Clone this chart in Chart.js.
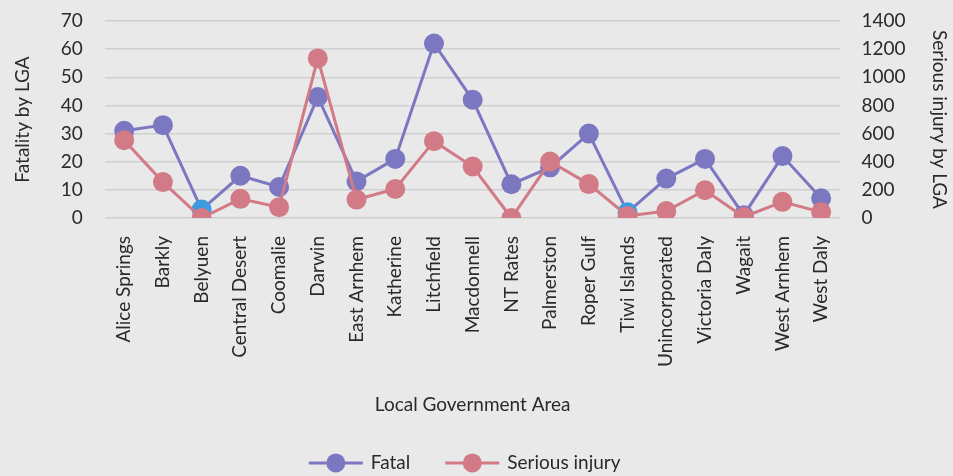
<!DOCTYPE html>
<html>
<head>
<meta charset="utf-8">
<script src="https://cdn.jsdelivr.net/npm/chart.js@4.4.1/dist/chart.umd.min.js"></script>
<style>
  html, body { margin: 0; padding: 0; background: #e9e9e9; }
  #wrap { width: 953px; height: 476px; }
</style>
</head>
<body>
<div id="wrap"><canvas id="chart" width="953" height="476"></canvas></div>
<script>
// Road crash casualties by Local Government Area (NT)
const categories = [
  'Alice Springs', 'Barkly', 'Belyuen', 'Central Desert', 'Coomalie', 'Darwin',
  'East Arnhem', 'Katherine', 'Litchfield', 'Macdonnell', 'NT Rates', 'Palmerston',
  'Roper Gulf', 'Tiwi Islands', 'Unincorporated', 'Victoria Daly', 'Wagait',
  'West Arnhem', 'West Daly'
];
// Fatalities (left axis)
const fatal = [31, 33, 3, 15, 11, 43, 13, 21, 62, 42, 12, 18, 30, 2, 14, 21, 1, 22, 7];
// Serious injuries (right axis)
const seriousInjury = [553, 255, 0, 136, 77, 1134, 131, 206, 546, 366, 0, 401, 241, 14, 49, 197, 7, 115, 42];

const fatalTicks = [0, 10, 20, 30, 40, 50, 60, 70];
const injuryTicks = [0, 200, 400, 600, 800, 1000, 1200, 1400];
// Areas whose fatal marker is shown in the accent colour
const accentAreas = ['Belyuen', 'Tiwi Islands'];

const FATAL_COLOR = '#7b77c1';
const INJURY_COLOR = '#d27a86';
const ACCENT_COLOR = '#3d9ce0';
const TEXT_COLOR = '#2a2a2a';
const FONT = 'Lato, "Open Sans", sans-serif';
const FONT_SIZE = 19;

// Legend drawn as line-and-dot swatches under the axis title
const lineLegend = {
  id: 'lineLegend',
  afterDraw(chart) {
    const ctx = chart.ctx;
    const swatchW = 54, dotR = 9.5, textGap = 8, itemGap = 35;
    ctx.save();
    ctx.font = FONT_SIZE + 'px ' + FONT;
    const items = chart.data.datasets.map(ds => ({
      text: ds.label, color: ds.borderColor, w: ctx.measureText(ds.label).width
    }));
    const total = items.reduce((s, it) => s + swatchW + textGap + it.w, 0) + itemGap * (items.length - 1);
    const cx = (chart.chartArea.left + chart.chartArea.right) / 2 - 8;
    const y = chart.height - 13;
    let x = cx - total / 2;
    items.forEach(it => {
      ctx.strokeStyle = it.color;
      ctx.lineWidth = 3;
      ctx.beginPath(); ctx.moveTo(x, y); ctx.lineTo(x + swatchW, y); ctx.stroke();
      ctx.fillStyle = it.color;
      ctx.beginPath(); ctx.arc(x + swatchW / 2, y, dotR, 0, Math.PI * 2); ctx.fill();
      ctx.fillStyle = TEXT_COLOR;
      ctx.textBaseline = 'middle';
      ctx.textAlign = 'left';
      ctx.fillText(it.text, x + swatchW + textGap, y);
      x += swatchW + textGap + it.w + itemGap;
    });
    ctx.restore();
  }
};

new Chart(document.getElementById('chart'), {
  type: 'line',
  data: {
    labels: categories,
    datasets: [
      {
        label: 'Fatal',
        data: fatal,
        yAxisID: 'yFatal',
        order: 1,
        borderColor: FATAL_COLOR,
        borderWidth: 3,
        pointRadius: 10,
        pointHoverRadius: 10,
        pointBorderWidth: 0,
        pointBackgroundColor: ctx => accentAreas.includes(categories[ctx.dataIndex]) ? ACCENT_COLOR : FATAL_COLOR,
        tension: 0
      },
      {
        label: 'Serious injury',
        data: seriousInjury,
        yAxisID: 'yInjury',
        order: 0,
        borderColor: INJURY_COLOR,
        borderWidth: 3,
        pointRadius: 10,
        pointHoverRadius: 10,
        pointBorderWidth: 0,
        pointBackgroundColor: INJURY_COLOR,
        tension: 0
      }
    ]
  },
  plugins: [lineLegend],
  options: {
    responsive: false,
    animation: false,
    layout: { padding: { left: 2, right: 0, top: 0, bottom: 40 } },
    plugins: {
      tooltip: { enabled: false },
      legend: { display: false }
    },
    scales: {
      x: {
        offset: true,
        grid: { display: false, drawTicks: false },
        border: { display: false },
        ticks: {
          color: TEXT_COLOR,
          font: { family: FONT, size: FONT_SIZE },
          minRotation: 90,
          maxRotation: 90,
          autoSkip: false,
          padding: 18
        },
        title: {
          display: true,
          text: 'Local Government Area',
          color: TEXT_COLOR,
          font: { family: FONT, size: FONT_SIZE },
          padding: { top: 22, bottom: 20 }
        }
      },
      yFatal: {
        position: 'left',
        min: 0,
        max: 70,
        afterBuildTicks: axis => { axis.ticks = fatalTicks.map(v => ({ value: v })); },
        // invisible tick marks keep the labels clear of the plot
        grid: { color: '#cfcfcf', lineWidth: 1.5, drawTicks: true, tickLength: 12.4, tickColor: 'rgba(0,0,0,0)' },
        border: { display: false },
        ticks: { color: TEXT_COLOR, font: { family: FONT, size: FONT_SIZE }, padding: 9.6 },
        title: {
          display: true,
          text: 'Fatality by LGA',
          color: TEXT_COLOR,
          font: { family: FONT, size: FONT_SIZE },
          padding: { top: 9, bottom: 17.4 }
        }
      },
      yInjury: {
        position: 'right',
        min: 0,
        max: 1400,
        afterBuildTicks: axis => { axis.ticks = injuryTicks.map(v => ({ value: v })); },
        grid: { display: true, drawOnChartArea: false, drawTicks: true, tickLength: 11.4, tickColor: 'rgba(0,0,0,0)' },
        border: { display: false },
        ticks: {
          color: TEXT_COLOR,
          font: { family: FONT, size: FONT_SIZE },
          padding: 9.6,
          callback: v => String(v)
        },
        title: {
          display: true,
          text: 'Serious injury by LGA',
          color: TEXT_COLOR,
          font: { family: FONT, size: FONT_SIZE },
          padding: { top: 2, bottom: 13 }
        }
      }
    }
  }
});
</script>
</body>
</html>
